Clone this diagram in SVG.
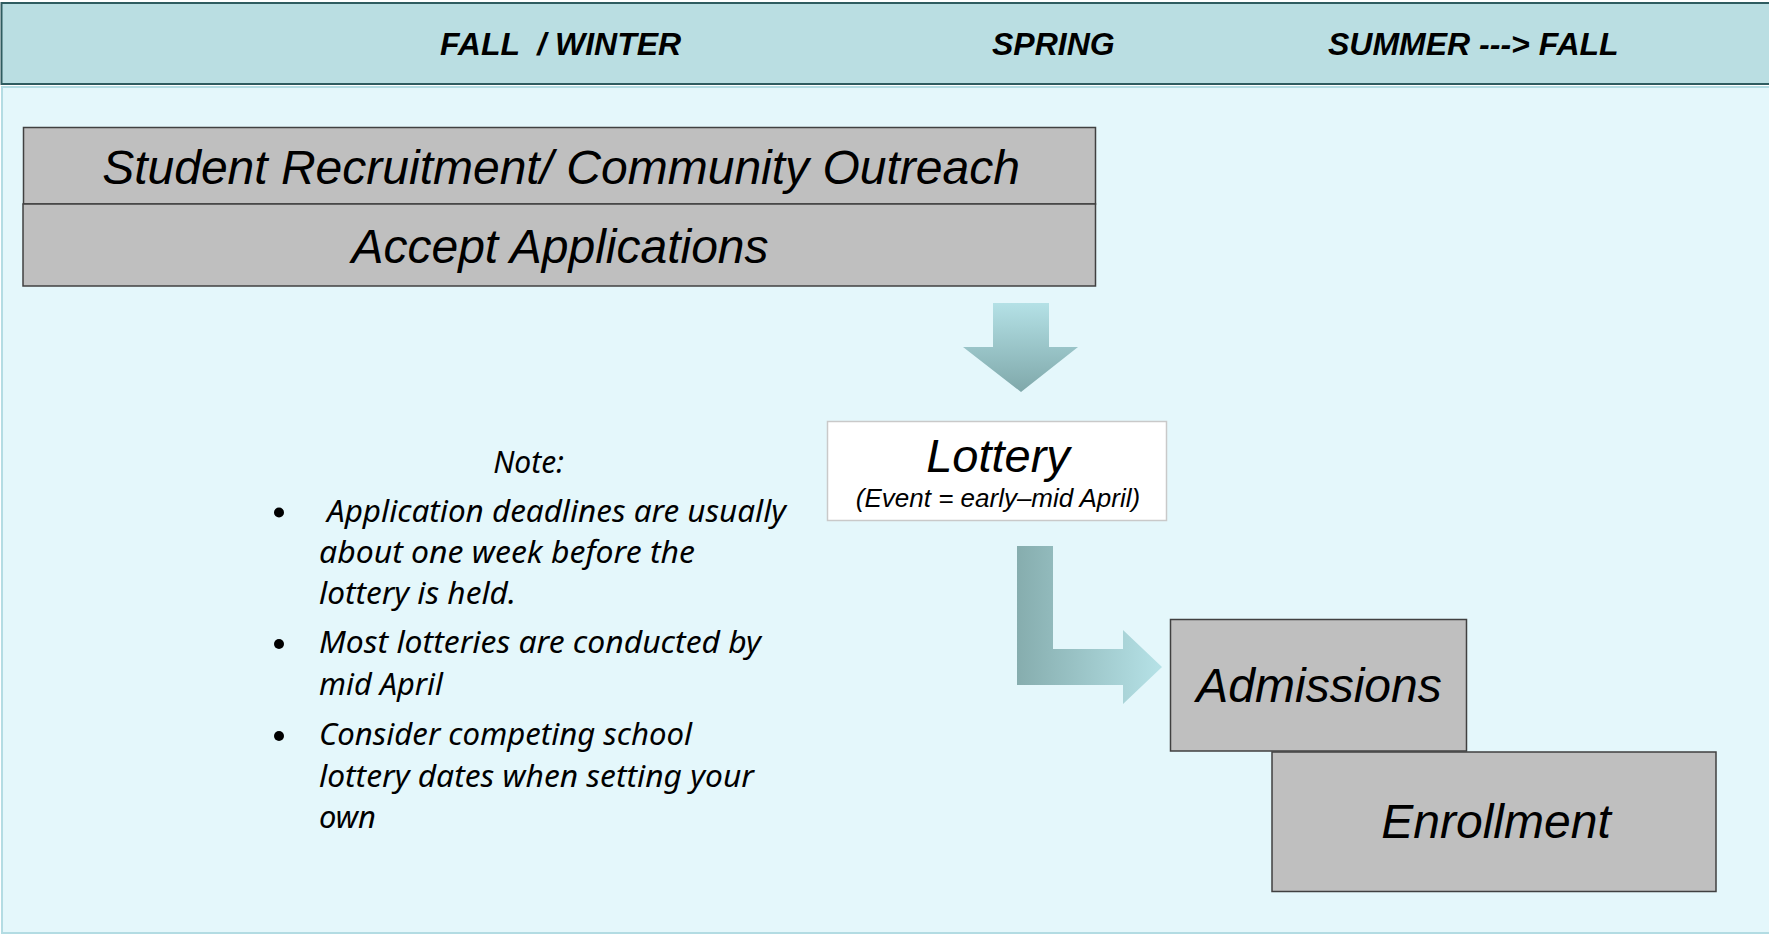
<svg xmlns="http://www.w3.org/2000/svg" width="1769" height="935" viewBox="0 0 1769 935">
<style>
.hdr{font-family:"Liberation Sans",Arial,sans-serif;font-weight:bold;font-style:italic;font-size:32px;fill:#000}
.box{fill:#bfbfbf;stroke:#404040;stroke-width:1.5}
.big{font-family:"Liberation Sans",Arial,sans-serif;font-style:italic;font-size:48px;fill:#000;text-anchor:middle}
.note{font-family:"Noto Sans","Open Sans",sans-serif;font-style:italic;font-size:30px;fill:#000}
</style>
<defs>
<linearGradient id="gDown" x1="0" y1="303" x2="0" y2="392" gradientUnits="userSpaceOnUse">
<stop offset="0" stop-color="#b4e1e6"/>
<stop offset="1" stop-color="#7fa8aa"/>
</linearGradient>
<linearGradient id="gElbow" x1="1017" y1="0" x2="1162" y2="0" gradientUnits="userSpaceOnUse">
<stop offset="0" stop-color="#86adae"/>
<stop offset="1" stop-color="#b6e2e7"/>
</linearGradient>
</defs>

<g id="background">
<rect x="2" y="87" width="1768" height="846" fill="#e4f7fb" stroke="#b3dce3" stroke-width="2"/>
</g>

<g id="header">
<rect x="1.5" y="3" width="1770" height="81" fill="#badee2" stroke="#2f5c60" stroke-width="2"/>
<text class="hdr" x="440" y="55" xml:space="preserve">FALL  / WINTER</text>
<text class="hdr" x="992" y="55">SPRING</text>
<text class="hdr" x="1328" y="55">SUMMER ---&gt; FALL</text>
</g>

<g id="recruitment">
<rect class="box" x="23.5" y="127.5" width="1072" height="76.5"/>
<text class="big" x="561" y="184">Student Recruitment/ Community Outreach</text>
</g>

<g id="accept-applications">
<rect class="box" x="23" y="204" width="1072.5" height="82"/>
<text class="big" x="560" y="263">Accept Applications</text>
</g>

<g id="lottery">
<rect x="827.5" y="421.5" width="339" height="99" fill="#ffffff" stroke="#c9c9c9" stroke-width="1.5"/>
<text class="big" x="998" y="472" style="font-size:47px">Lottery</text>
<text class="big" x="998" y="507" style="font-size:26px">(Event = early–mid April)</text>
</g>

<g id="admissions">
<rect class="box" x="1170.5" y="619.5" width="296" height="131.5"/>
<text class="big" x="1319" y="702">Admissions</text>
</g>

<g id="enrollment">
<rect class="box" x="1272" y="752" width="444" height="139.5"/>
<text class="big" x="1496" y="838">Enrollment</text>
</g>

<g id="note">
<text class="note" x="528.5" y="473" text-anchor="middle">Note:</text>
<circle cx="279" cy="512.5" r="5" fill="#000"/>
<circle cx="279" cy="644" r="5" fill="#000"/>
<circle cx="279" cy="736" r="5" fill="#000"/>
<text class="note" x="327" y="522" textLength="459" lengthAdjust="spacingAndGlyphs">Application deadlines are usually</text>
<text class="note" x="319" y="563" textLength="376" lengthAdjust="spacingAndGlyphs">about one week before the</text>
<text class="note" x="319" y="604" textLength="197" lengthAdjust="spacingAndGlyphs">lottery is held.</text>
<text class="note" x="319" y="653" textLength="442" lengthAdjust="spacingAndGlyphs">Most lotteries are conducted by</text>
<text class="note" x="319" y="695" textLength="124" lengthAdjust="spacingAndGlyphs">mid April</text>
<text class="note" x="319" y="745" textLength="373" lengthAdjust="spacingAndGlyphs">Consider competing school</text>
<text class="note" x="319" y="787" textLength="435" lengthAdjust="spacingAndGlyphs">lottery dates when setting your</text>
<text class="note" x="319" y="828" textLength="57" lengthAdjust="spacingAndGlyphs">own</text>
</g>

<g id="connectors">
<polygon id="arrow-down" points="993,303 1049,303 1049,347 1078,347 1021,392 963,347 993,347" fill="url(#gDown)"/>
<polygon id="arrow-elbow" points="1017,546 1053,546 1053,649 1123,649 1123,630 1162,667 1123,704 1123,685 1017,685" fill="url(#gElbow)"/>
</g>
</svg>
